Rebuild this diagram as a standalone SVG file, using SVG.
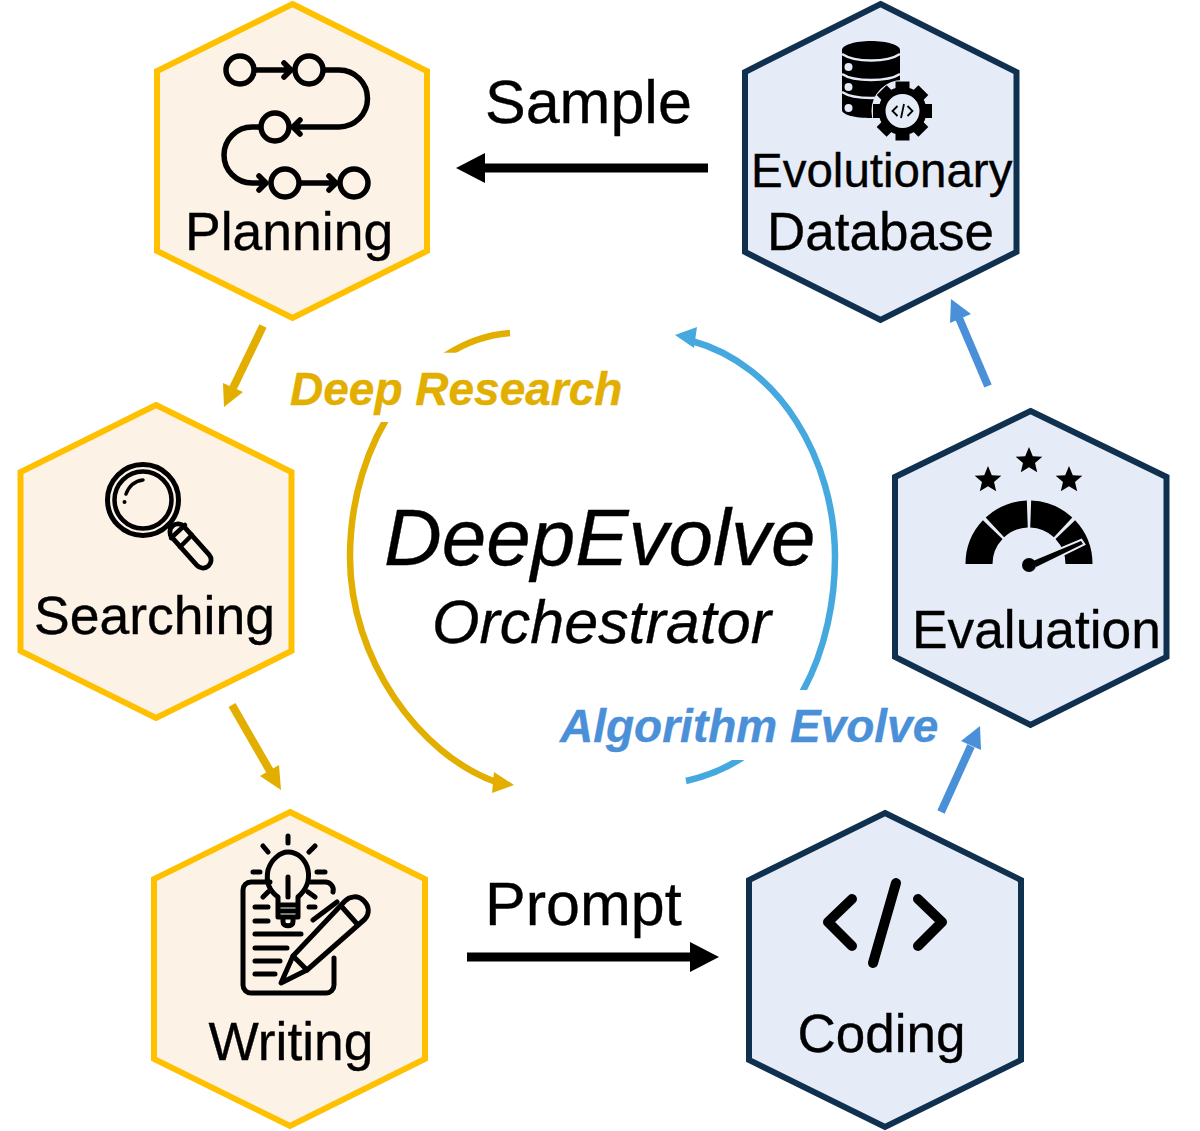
<svg xmlns="http://www.w3.org/2000/svg" xmlns:xlink="http://www.w3.org/1999/xlink" width="1200" height="1131" viewBox="0 0 1200 1131">
<style>
text{font-family:"Liberation Sans",Arial,sans-serif;fill:#000;stroke:#000;stroke-width:.35}
.lbl{font-size:53.3px}
.hex{stroke-width:6;stroke-linejoin:miter}
.y{fill:#fdf2e6;stroke:#ffc000}
.b{fill:#e6ecf7;stroke:#10304f}
.ln{fill:none;stroke:#000;stroke-width:5;stroke-linecap:round;stroke-linejoin:round}
.gold{fill:#e2ae00}.sky{fill:#4a90d9}
.tg{fill:#e2ae00;stroke:#e2ae00}.ts{fill:#4a90d9;stroke:#4a90d9}
</style>
<defs>
<polygon id="star" points="0,-14 3.8,-4.8 13.3,-4.3 6,1.9 8.2,11.3 0,6.3 -8.2,11.3 -6,1.9 -13.3,-4.3 -3.8,-4.8"/>
<clipPath id="cg"><rect x="300" y="300" width="300" height="52.7"/><rect x="300" y="422" width="300" height="400"/></clipPath>
<clipPath id="cb"><rect x="600" y="300" width="300" height="390"/><rect x="600" y="760" width="300" height="60"/></clipPath>
</defs>
<rect width="1200" height="1131" fill="#fff"/>

<g id="connectors">
<g id="orchestrator-arcs">
<path clip-path="url(#cg)" d="M510,333C420,340 350,440 350,557C350,660 420,755 496,782" fill="none" stroke="#e2ae00" stroke-width="6.5"/>
<polygon class="gold" points="514,785 492,793 494,772"/>
<path clip-path="url(#cb)" d="M686,781C800,755 835,640 835,557C835,460 780,365 692,341" fill="none" stroke="#45a9e0" stroke-width="6.5"/>
<polygon fill="#45a9e0" points="675,335 697,327 694,348"/>
</g>
<g id="edge-sample"><path d="M708,168H482" stroke="#000" stroke-width="9"/><polygon points="456,168 485,153 485,183"/></g>
<g id="edge-prompt"><path d="M467,957H692" stroke="#000" stroke-width="9"/><polygon points="719,957 690,942 690,972"/></g>
<g id="edge-plan-search"><path d="M263,326L233,388" stroke="#e2ae00" stroke-width="8"/><polygon class="gold" points="224,407 223,383 243,392"/></g>
<g id="edge-search-write"><path d="M232,705L270,771" stroke="#e2ae00" stroke-width="8"/><polygon class="gold" points="281,790 260,776 279,765"/></g>
<g id="edge-code-eval"><path d="M941,812L971,746" stroke="#4a90d9" stroke-width="8"/><polygon class="sky" points="980,726 981,750 961,741"/></g>
<g id="edge-eval-db"><path d="M988,386L959,318" stroke="#4a90d9" stroke-width="8"/><polygon class="sky" points="951,299 971,314 950,323"/></g>
</g>

<g id="node-planning">
<polygon class="hex y" points="292.5,4 427,71 427,251 292.5,318 157,251 157,71"/>
<g class="ln" style="stroke-width:5.500">
<circle cx="240" cy="70" r="14"/><circle cx="309" cy="70" r="14"/><circle cx="275" cy="127" r="14"/><circle cx="285" cy="183" r="14"/><circle cx="354" cy="183" r="14"/>
<path d="M255,70H290M284,63l7,7l-7,7"/>
<path d="M324,70H339A28.500,28.500 0 0 1 339,127H293M300,120l-7,7l7,7"/>
<path d="M260,127H252A28,28 0 0 0 252,183H266M259,176l7,7l-7,7"/>
<path d="M300,183H335M329,176l7,7l-7,7"/>
</g>
<text class="lbl" x="185" y="250" style="font-size:53.500px">Planning</text>
</g>

<g id="node-database">
<polygon class="hex b" points="880.5,4 1016.5,72 1016.5,252 880.5,320 745,252 745,72"/>
<path d="M842,50C842,45 855,41 871,41C887,41 900,45 900,50V110C900,115 887,118 871,118C855,118 842,115 842,110Z"/>
<path d="M842,54C848,58 858,60.500 871,60.500C884,60.500 894,58 900,54M842,74C848,78 858,80 871,80C884,80 894,78 900,74M842,92C848,96 858,98 871,98C884,98 894,96 900,92" fill="none" stroke="#e6ecf7" stroke-width="2.500"/>
<circle cx="848.500" cy="67" r="4" fill="#e6ecf7"/><circle cx="848.500" cy="87" r="4" fill="#e6ecf7"/><circle cx="848.500" cy="108" r="4" fill="#e6ecf7"/>
<circle cx="902.5" cy="111" r="29" fill="#e6ecf7" stroke="#e6ecf7" stroke-width="4"/>
<g transform="translate(902.5,111)">
<circle r="24"/>
<g id="gear-tooth"><rect x="-7" y="-29.500" width="14" height="10"/></g>
<use xlink:href="#gear-tooth" href="#gear-tooth" transform="rotate(45)"/><use xlink:href="#gear-tooth" href="#gear-tooth" transform="rotate(90)"/><use xlink:href="#gear-tooth" href="#gear-tooth" transform="rotate(135)"/><use xlink:href="#gear-tooth" href="#gear-tooth" transform="rotate(180)"/><use xlink:href="#gear-tooth" href="#gear-tooth" transform="rotate(225)"/><use xlink:href="#gear-tooth" href="#gear-tooth" transform="rotate(270)"/><use xlink:href="#gear-tooth" href="#gear-tooth" transform="rotate(315)"/>
<circle r="17" fill="#e6ecf7"/>
<path d="M-5,-5L-10,0L-5,5M5,-5L10,0L5,5M1.5,-7L-1.5,7" fill="none" stroke="#000" stroke-width="1.8"/>
</g>
<text x="751" y="186.500" font-size="47.500">Evolutionary</text>
<text x="767" y="250" font-size="53">Database</text>
</g>

<g id="node-searching">
<polygon class="hex y" points="156,405 291.5,472 291.5,651 156,718 20.5,651 20.5,472"/>
<circle class="ln" cx="143" cy="500" r="35.5"/><circle class="ln" cx="143" cy="500" r="28.500" style="stroke-width:4.500"/>
<path d="M126,494C129,486 135,481 143,480" fill="none" stroke="#000" stroke-width="3.500" stroke-linecap="round"/>
<circle cx="124.500" cy="502" r="2"/>
<path class="ln" d="M168,525L176,533"/>
<path d="M178,532L203,560" stroke="#000" stroke-width="21" stroke-linecap="round"/>
<path d="M178,532L203,560" stroke="#fdf2e6" stroke-width="11.500" stroke-linecap="round"/>
<path d="M171,538L185,525M180,547L192,535" stroke="#000" stroke-width="4.500" stroke-linecap="round"/>
<text class="lbl" x="34" y="634" style="font-size:53.500px">Searching</text>
</g>

<g id="node-writing">
<polygon class="hex y" points="290,812 425,879 425,1059 290,1126 154,1059 154,879"/>
<g class="ln">
<path d="M270,882H251A8,8 0 0 0 243,890V985A8,8 0 0 0 251,993H326A8,8 0 0 0 334,985V958"/>
<path d="M310,882H325A8,8 0 0 1 333,892"/>
<path d="M278,897C268,890 266,880 268,870C271,860 280,852 288,852C298,852 306,860 308,870C310,880 306,890 298,897V917H278ZM278,905H298M278,911H298M283,917V922C283,927 293,927 293,922V917M288,877V897"/>
<path d="M288,836V843M263,846L268,852M315,846L309,852M253,872H260M317,872H325M263,897L268,892M315,897L308,892"/>
<path d="M255,907H268M255,921H268M255,934H301M255,948H287M255,961H280M255,974H275M309,907H315M313,920L337,902"/>
<path fill="#fdf2e6" d="M281,983L293,956L345,901C350,896 358,895 364,901C370,907 369,914 365,919L307,970Z"/>
<path d="M293,956L307,970M342,907L358,925"/>
</g>
<text class="lbl" x="208.500" y="1060">Writing</text>
</g>

<g id="node-coding">
<polygon class="hex b" points="885,813 1021,880 1021,1060 885,1127 749,1060 749,880"/>
<path d="M852,899L828,922L852,946M918,899L942,922L918,946M896,883L873,963" fill="none" stroke="#000" stroke-width="10" stroke-linecap="round" stroke-linejoin="round"/>
<text x="797.500" y="1052" font-size="53">Coding</text>
</g>

<g id="node-evaluation">
<polygon class="hex b" points="1030.5,411 1166.5,477 1166.5,657 1030.5,725 895,657 895,477"/>
<use xlink:href="#star" href="#star" x="988" y="480"/><use xlink:href="#star" href="#star" x="1029" y="461"/><use xlink:href="#star" href="#star" x="1069" y="480"/>
<g fill="none" stroke="#000" stroke-width="27">
<path d="M979,564A50,50 0 0 1 992.700,529.600"/>
<path d="M994.900,527.400A50,50 0 0 1 1027.300,514"/>
<path d="M1030.700,514A50,50 0 0 1 1063.100,527.400"/>
<path d="M1065.300,529.600A50,50 0 0 1 1079,564"/>
</g>
<polygon points="1033,561 1081,541 1083,544 1036,567" stroke="#e6ecf7" stroke-width="4"/>
<polygon points="1033,561 1081,541 1083,544 1036,567"/>
<circle cx="1029" cy="565" r="7"/>
<text x="912" y="647.500" font-size="53.300">Evaluation</text>
</g>

<g id="labels">
<text x="485" y="123" font-size="61">Sample</text>
<text x="485" y="925" font-size="61">Prompt</text>
<text class="tg" x="290" y="405" font-size="46" font-weight="700" font-style="italic">Deep Research</text>
<text class="ts" x="560" y="742" font-size="46" font-weight="700" font-style="italic">Algorithm Evolve</text>
<text x="384" y="565" font-size="80" font-style="italic">DeepEvolve</text>
<text x="432" y="642.500" font-size="61" font-style="italic">Orchestrator</text>
</g>
</svg>
